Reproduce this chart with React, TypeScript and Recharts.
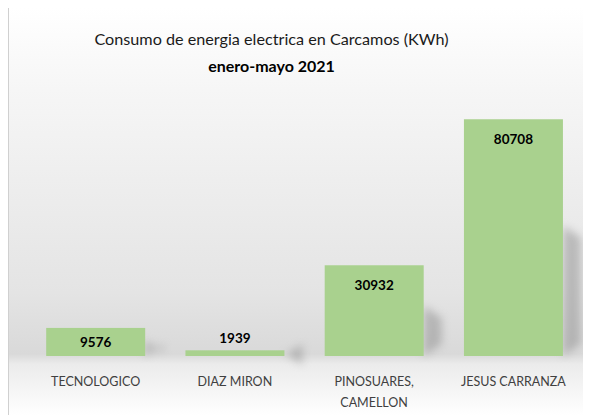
import React from 'react';
import { BarChart, Bar, XAxis, YAxis, LabelList } from 'recharts';

const categories = ['TECNOLOGICO', 'DIAZ MIRON', 'PINOSUARES, CAMELLON', 'JESUS CARRANZA'];
const consumo = [9576, 1939, 30932, 80708];
const data = categories.map((name, i) => ({ name, value: consumo[i] }));

const FONT = 'Lato, "Open Sans", sans-serif';

const ShadowBar = (props: any) => {
  const { x, y, width, height } = props;
  if (height <= 0) return null;
  const sTop = y + height * 0.45;
  const bottom = y + height;
  return (
    <g>
      <polygon
        points={`${x + width},${sTop} ${x + width + 18},${sTop + 12} ${x + width + 18},${bottom - 12} ${x + width},${bottom}`}
        fill="#8c8c8c"
        opacity={0.5}
        filter="url(#shadowBlur)"
      />
      <rect x={x} y={y} width={width} height={height} fill="#a9d18e" />
    </g>
  );
};

const ValueLabel = (props: any) => {
  const { x, y, width, height, value } = props;
  const cy = height < 20 ? y - 12 : y + Math.min(20, height / 2);
  return (
    <text x={x + width / 2} y={cy} textAnchor="middle" dominantBaseline="central"
      fontFamily={FONT} fontWeight={700} fontSize={13.5} fill="#000">
      {value}
    </text>
  );
};

const CatTick = (props: any) => {
  const { x, y, payload } = props;
  const v: string = payload.value;
  const lines = v.includes(',') ? [v.split(',')[0] + ',', v.split(',')[1].trim()] : [v];
  return (
    <g>
      {lines.map((l, i) => (
        <text key={i} x={x} y={y + 17 + i * 21} textAnchor="middle" dominantBaseline="central"
          fontFamily={FONT} fontSize={12.5} fill="#404040">
          {l}
        </text>
      ))}
    </g>
  );
};

export default function App() {
  return (
    <div style={{
      position: 'relative', width: 583, height: 408, marginTop: -1, boxSizing: 'border-box',
      borderLeft: '1px solid #d0d0d0', borderTop: '1px solid #d0d0d0',
      background: 'linear-gradient(to bottom, #ffffff 0%, #f6f6f6 20%, #e4e4e4 70%, #d9d9d9 85%, #ebebeb 87.5%, #ffffff 100%)',
    }}>
      <div style={{ position: 'absolute', left: 0, top: 21, width: 525, textAlign: 'center', fontFamily: FONT, fontSize: 16.2, color: '#1a1a1a' }}>
        Consumo de energia electrica en Carcamos (KWh)
      </div>
      <div style={{ position: 'absolute', left: 0, top: 48, width: 525, textAlign: 'center', fontFamily: FONT, fontSize: 16, fontWeight: 700, color: '#000' }}>
        enero-mayo 2021
      </div>
      <div style={{ position: 'absolute', left: -1, top: 0 }}>
        <BarChart width={583} height={408} data={data} margin={{ top: 84, right: 8, left: 18, bottom: 0 }} barCategoryGap="14.5%">
          <defs>
            <filter id="shadowBlur" x="-50%" y="-50%" width="200%" height="200%">
              <feGaussianBlur stdDeviation="4" />
            </filter>
          </defs>
          <XAxis dataKey="name" axisLine={false} tickLine={false} height={60} interval={0} tick={<CatTick />} />
          <YAxis hide domain={[0, 90000]} width={0} />
          <Bar dataKey="value" isAnimationActive={false} shape={<ShadowBar />}>
            <LabelList dataKey="value" content={<ValueLabel />} />
          </Bar>
        </BarChart>
      </div>
    </div>
  );
}
